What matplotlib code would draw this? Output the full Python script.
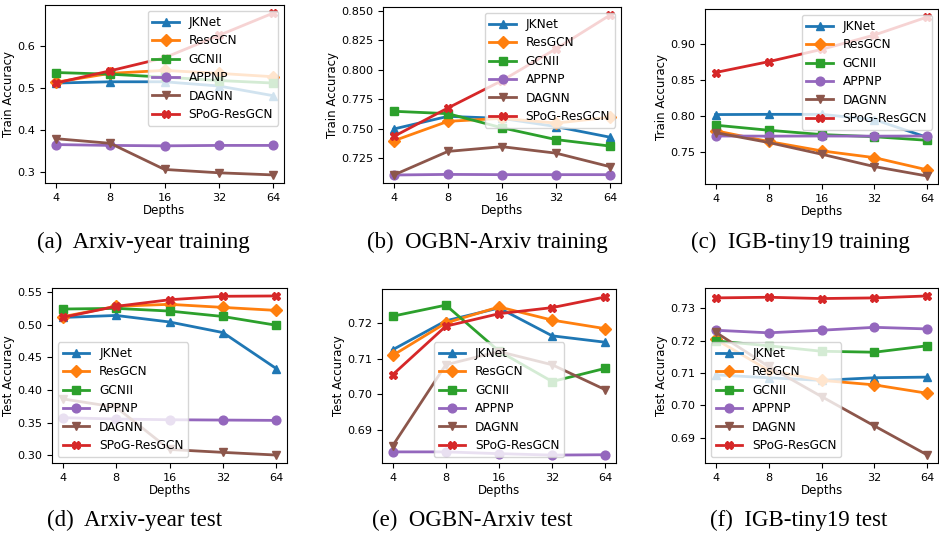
import numpy as np
import matplotlib
matplotlib.use('Agg')
import matplotlib.pyplot as plt

# ---------------------------------------------------------------
# data (depth 4, 8, 16, 32, 64)
# ---------------------------------------------------------------
depths = [4, 8, 16, 32, 64]
models = ['JKNet', 'ResGCN', 'GCNII', 'APPNP', 'DAGNN', 'SPoG-ResGCN']

arxiv_year_train = {
    'JKNet':       [0.512, 0.515, 0.515, 0.505, 0.482],
    'ResGCN':      [0.514, 0.535, 0.542, 0.535, 0.527],
    'GCNII':       [0.537, 0.533, 0.526, 0.518, 0.512],
    'APPNP':       [0.366, 0.364, 0.363, 0.364, 0.364],
    'DAGNN':       [0.380, 0.369, 0.307, 0.299, 0.294],
    'SPoG-ResGCN': [0.512, 0.541, 0.572, 0.625, 0.678],
}
ogbn_arxiv_train = {
    'JKNet':       [0.750, 0.7607, 0.759, 0.752, 0.743],
    'ResGCN':      [0.740, 0.7565, 0.759, 0.755, 0.760],
    'GCNII':       [0.765, 0.763, 0.751, 0.741, 0.7355],
    'APPNP':       [0.7110, 0.7115, 0.7113, 0.7113, 0.7113],
    'DAGNN':       [0.711, 0.731, 0.735, 0.7295, 0.718],
    'SPoG-ResGCN': [0.7437, 0.7678, 0.791, 0.818, 0.8466],
}
igb_train = {
    'JKNet':       [0.8017, 0.802, 0.802, 0.7947, 0.770],
    'ResGCN':      [0.7793, 0.7644, 0.7514, 0.742, 0.725],
    'GCNII':       [0.787, 0.780, 0.774, 0.771, 0.766],
    'APPNP':       [0.772, 0.7718, 0.772, 0.7718, 0.772],
    'DAGNN':       [0.7767, 0.763, 0.7468, 0.7296, 0.7165],
    'SPoG-ResGCN': [0.860, 0.875, 0.892, 0.912, 0.937],
}
arxiv_year_test = {
    'JKNet':       [0.5109, 0.514, 0.504, 0.4878, 0.4327],
    'ResGCN':      [0.512, 0.528, 0.531, 0.5263, 0.5217],
    'GCNII':       [0.5238, 0.5248, 0.5207, 0.5124, 0.499],
    'APPNP':       [0.3576, 0.3556, 0.3545, 0.354, 0.3535],
    'DAGNN':       [0.3864, 0.3736, 0.309, 0.3046, 0.3005],
    'SPoG-ResGCN': [0.511, 0.5279, 0.538, 0.5433, 0.5438],
}
ogbn_arxiv_test = {
    'JKNet':       [0.7125, 0.7206, 0.7242, 0.7164, 0.7146],
    'ResGCN':      [0.7109, 0.7200, 0.7245, 0.7208, 0.7184],
    'GCNII':       [0.7219, 0.7250, 0.7121, 0.7036, 0.7073],
    'APPNP':       [0.6839, 0.6839, 0.6834, 0.6830, 0.6831],
    'DAGNN':       [0.6856, 0.7083, 0.7120, 0.7083, 0.7013],
    'SPoG-ResGCN': [0.7055, 0.7191, 0.7226, 0.7243, 0.7273],
}
igb_test = {
    'JKNet':       [0.7094, 0.7085, 0.7077, 0.7085, 0.7087],
    'ResGCN':      [0.7204, 0.7108, 0.7077, 0.7063, 0.7037],
    'GCNII':       [0.7199, 0.7184, 0.7167, 0.7164, 0.7184],
    'APPNP':       [0.7232, 0.7224, 0.7232, 0.7241, 0.7236],
    'DAGNN':       [0.7226, 0.7120, 0.7027, 0.6936, 0.6846],
    'SPoG-ResGCN': [0.7332, 0.7334, 0.7330, 0.7332, 0.7338],
}

captions = ['(a)  Arxiv-year training', '(b)  OGBN-Arxiv training',
            '(c)  IGB-tiny19 training', '(d)  Arxiv-year test',
            '(e)  OGBN-Arxiv test', '(f)  IGB-tiny19 test']

# ---------------------------------------------------------------
# styling
# ---------------------------------------------------------------
styles = {
    'JKNet':       dict(color='C0', marker='^'),
    'ResGCN':      dict(color='C1', marker='D'),
    'GCNII':       dict(color='C2', marker='s'),
    'APPNP':       dict(color='C4', marker='o'),
    'DAGNN':       dict(color='C5', marker='v'),
    'SPoG-ResGCN': dict(color='C3', marker='X'),
}
FS_TICK = 8.1
FS_LAB = 8.5
FS_LEG = 8.7

fig = plt.figure(figsize=(9.39, 5.34), dpi=100)

# axes boxes in pixels: (x0, y0_top, x1, y1_bottom)
W, H = 939, 534
boxes = [(45, 5, 284, 183), (383, 7, 621, 183), (705, 9, 938, 184),
         (52, 288, 287, 463), (382, 289, 616, 463), (705, 288, 938, 463)]
panels = [
    (arxiv_year_train, 'Train Accuracy', 'upper right'),
    (ogbn_arxiv_train, 'Train Accuracy', 'upper right'),
    (igb_train, 'Train Accuracy', 'upper right'),
    (arxiv_year_test, 'Test Accuracy', 'lower left'),
    (ogbn_arxiv_test, 'Test Accuracy', 'lower center'),
    (igb_test, 'Test Accuracy', 'lower left'),
]
cap_pos = [(143, 242), (487, 242), (800, 242), (135, 520), (472, 520), (799, 520)]

for (x0, y0, x1, y1), (data, ylab, loc), cap, (cx, cy) in zip(boxes, panels, captions, cap_pos):
    ax = fig.add_axes([x0 / W, 1 - y1 / H, (x1 - x0) / W, (y1 - y0) / H])
    for m in models:
        ax.plot(depths, data[m], linewidth=2, markersize=6.3, label=m, **styles[m])
    ax.set_xscale('log', base=2)
    ax.set_xticks(depths)
    ax.set_xticklabels([str(d) for d in depths])
    ax.minorticks_off()
    ax.tick_params(labelsize=FS_TICK)
    ax.set_xlabel('Depths', fontsize=FS_LAB, labelpad=1)
    ax.set_ylabel(ylab, fontsize=FS_LAB, labelpad=1.5)
    ax.legend(loc=loc, fontsize=FS_LEG, handlelength=2.2, borderaxespad=0.5,
              labelspacing=0.45)
    fig.text(cx / W, 1 - cy / H, cap, ha='center', va='center',
             fontsize=16.5, family='Liberation Serif')

fig.savefig('out.png', dpi=100)
